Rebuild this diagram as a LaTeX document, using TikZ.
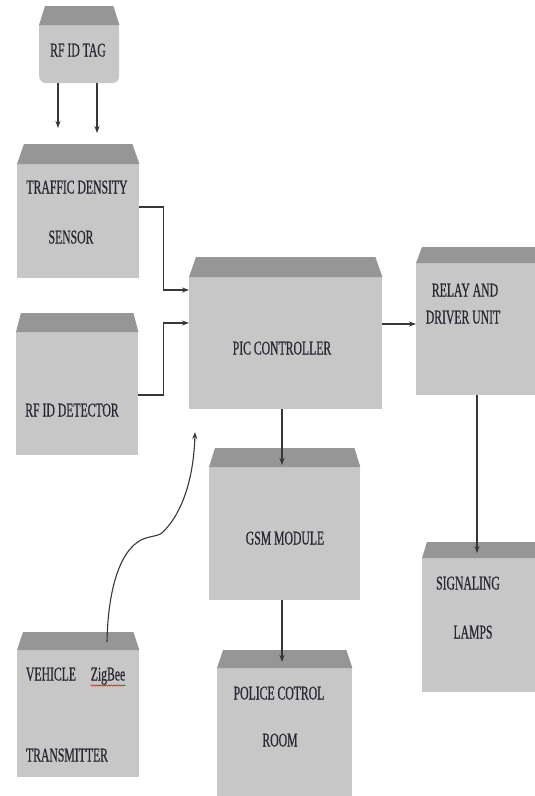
\documentclass[tikz,border=0pt]{standalone}
\usepackage{fontspec}
\newfontfamily\boxfont[FakeStretch=0.6, FakeBold=0.6]{Liberation Serif}
\usetikzlibrary{arrows.meta,calc,decorations.pathmorphing}
\definecolor{boxgray}{RGB}{199,199,199}
\definecolor{topgray}{RGB}{150,150,150}
\definecolor{txtgray}{RGB}{40,40,52}
\definecolor{lngray}{RGB}{55,55,55}

\begin{document}
\begin{tikzpicture}[x=1pt, y=-1pt, >={Stealth[length=7pt,width=5pt]},
    block/.style={fill=boxgray, inner sep=0, anchor=north west},
    lbl/.style={font=\boxfont\fontsize{19.5}{19.5}\selectfont, text=txtgray, inner sep=0, anchor=base},
    link/.style={draw=lngray, line width=1.1pt, ->}]
    \useasboundingbox (0,0) rectangle (535,796);
    % block bodies
    \node[block, rounded corners=7pt, minimum width=80pt, minimum height=58pt] (tag) at (39,25) {};
    \fill[boxgray] (tag.north west) rectangle ([yshift=-8pt]tag.north east);
    \node[block, minimum width=122pt, minimum height=114pt] (tds) at (17,164) {};
    \node[block, minimum width=122pt, minimum height=123pt] (rfd) at (16,332) {};
    \node[block, minimum width=193pt, minimum height=132pt] (pic) at (189,277) {};
    \node[block, minimum width=129pt, minimum height=132pt] (relay) at (416,263) {};
    \node[block, minimum width=151pt, minimum height=133pt] (gsm) at (209,467) {};
    \node[block, minimum width=123pt, minimum height=134pt] (lamps) at (422,558) {};
    \node[block, minimum width=135pt, minimum height=150pt] (police) at (217,668) {};
    \node[block, minimum width=122pt, minimum height=127pt] (veh) at (17,650) {};
    % darker top strips
    \foreach \n/\d/\h in {tag/6/19, tds/7/20, rfd/5/19, pic/7/20, relay/6/16,
                          gsm/6/19, lamps/5/16, police/6/18, veh/6/18}
      \fill[topgray] (\n.north west) -- ++(\d,-\h)
        -- ($(\n.north east)+(-\d,-\h)$) -- (\n.north east) -- cycle;
    % texts
    \node[lbl] (tagT) at (78,56.5) {RF ID TAG};
    \node[lbl] (tdsT) at (77,193.5) {TRAFFIC DENSITY};
    \node[lbl] (tdsB) at (71,243.5) {SENSOR};
    \node[lbl] (rfdT) at (72,416.5) {RF ID DETECTOR};
    \node[lbl] (picT) at (282,354.5) {PIC CONTROLLER};
    \node[lbl] (relayT) at (465,296.5) {RELAY AND};
    \node[lbl] (relayB) at (463,323.5) {DRIVER UNIT};
    \node[lbl] (gsmT) at (285,544.5) {GSM MODULE};
    \node[lbl] (lampsT) at (468,589.5) {SIGNALING};
    \node[lbl] (lampsB) at (473,638.5) {LAMPS};
    \node[lbl] (policeT) at (279,699.5) {POLICE COTROL};
    \node[lbl] (policeB) at (280,746.5) {ROOM};
    \node[lbl] (vehT) at (51,680.5) {VEHICLE};
    \node[lbl] (zig) at (108,680.5) {ZigBee};
    \node[lbl] (vehB) at (67,761.5) {TRANSMITTER};
    \draw[red, line width=0.6pt, decorate, decoration={snake, amplitude=0.6pt, segment length=2.5pt}]
      ([yshift=-5pt]zig.base west) -- ([yshift=-5pt]zig.base east);
    % connectors
    \coordinate (t1) at (58,128);
    \coordinate (t2) at (97,133);
    \draw[link] (t1 |- tag.south) -- (t1);
    \draw[link] (t2 |- tag.south) -- (t2);
    \draw[link] ([yshift=-43pt]tds.north east) -- ++(24,0) |- ([yshift=-13pt]pic.north west);
    \draw[link] ([yshift=-63pt]rfd.north east) -- ++(25,0) |- ([yshift=-46pt]pic.north west);
    \coordinate (rin) at ([yshift=-61pt]relay.north west);
    \draw[link] (rin -| pic.east) -- (rin);
    \coordinate (gin) at (282,465);
    \draw[link] (gin |- pic.south) -- (gin);
    \coordinate (pin) at (282,662);
    \draw[link] (pin |- gsm.south) -- (pin);
    \coordinate (lin) at (477,553);
    \draw[link] (lin |- relay.south) -- (lin);
    \coordinate (zin) at (195,432);
    \draw[link] ([xshift=90pt,yshift=8pt]veh.north west) .. controls (108,585) and (122,545) .. (146,538)
      .. controls (156,535) and (160,536) .. (164,531)
      .. controls (186,508) and (194,470) .. (zin);
  \end{tikzpicture}
\end{document}
